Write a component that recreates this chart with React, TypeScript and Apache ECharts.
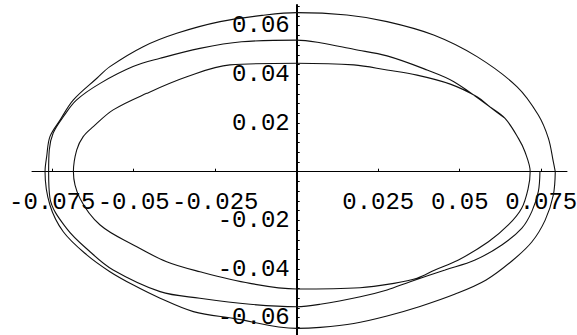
import React, { useEffect, useRef } from "react";
import * as echarts from "echarts";

// Outer closed orbit, (x, y) pairs
const outerLoop: [number, number][] = [
  [0.0793, 0], [0.0787, -0.0096], [0.0762, -0.0199], [0.0721, -0.0289],
  [0.066, -0.0367], [0.0581, -0.0445], [0.0486, -0.0503], [0.0378, -0.0554],
  [0.0277, -0.0593], [0.0175, -0.0624], [0.0072, -0.064], [0, -0.0644],
  [-0.0194, -0.0603], [-0.0317, -0.0575], [-0.0419, -0.052], [-0.0501, -0.0466],
  [-0.0573, -0.0411], [-0.0644, -0.0342], [-0.0716, -0.0247], [-0.0757, -0.0137],
  [-0.0772, 0], [-0.0767, 0.0062], [-0.0757, 0.0144], [-0.0726, 0.0212],
  [-0.0685, 0.0295], [-0.0613, 0.0384], [-0.0573, 0.0432], [-0.0471, 0.0514],
  [-0.0368, 0.0569], [-0.0235, 0.0617], [-0.0097, 0.0644], [0, 0.0654],
  [0.0154, 0.0644], [0.0277, 0.0617], [0.042, 0.0562], [0.0553, 0.0473],
  [0.0676, 0.0349], [0.0741, 0.0233], [0.0772, 0.0137], [0.0787, 0.0041],
  [0.0793, 0],
];

// Trajectory starting at (0.075, 0): first turn
const firstTurn: [number, number][] = [
  [0.0746, 0], [0.0741, -0.0082], [0.0721, -0.0164], [0.069, -0.0233],
  [0.0629, -0.0301], [0.0547, -0.0363], [0.0455, -0.0404], [0.0348, -0.0452],
  [0.0277, -0.0486], [0.0195, -0.0514], [0.0072, -0.0545], [0, -0.0555],
  [-0.0143, -0.0545], [-0.0297, -0.052], [-0.0419, -0.0493], [-0.0563, -0.0404],
  [-0.0634, -0.0329], [-0.0706, -0.0233], [-0.0757, -0.0108], [-0.0761, 0],
  [-0.0759, 0.0089], [-0.0747, 0.0159], [-0.0716, 0.0226], [-0.0675, 0.0295],
  [-0.0603, 0.0363], [-0.0502, 0.0432], [-0.0419, 0.0466], [-0.0297, 0.0507],
  [-0.0169, 0.0534], [0, 0.0541], [0.0072, 0.053], [0.0175, 0.0503],
  [0.0277, 0.0476], [0.04, 0.0418], [0.0482, 0.037], [0.0593, 0.0266],
  [0.0639, 0.0219], [0.068, 0.0137], [0.07, 0.0082], [0.0716, 0],
];

// Same trajectory: second turn
const secondTurn: [number, number][] = [
  [0.071, -0.0068], [0.069, -0.015], [0.0649, -0.0219], [0.0588, -0.0288],
  [0.0496, -0.0363], [0.0424, -0.0404], [0.0369, -0.0438], [0.0298, -0.0459],
  [0.0194, -0.0477], [0, -0.0482], [-0.0143, -0.0459], [-0.0297, -0.0411],
  [-0.0399, -0.037], [-0.0501, -0.0301], [-0.0603, -0.0219], [-0.0665, -0.0109],
  [-0.0685, 0], [-0.0675, 0.0089], [-0.0655, 0.0144], [-0.0624, 0.0185],
  [-0.0563, 0.0254], [-0.046, 0.0322], [-0.0337, 0.039], [-0.0205, 0.0439],
  [0, 0.0446], [0.0175, 0.0439], [0.0277, 0.0418], [0.0369, 0.0397],
  [0.0471, 0.036], [0.0553, 0.0308], [0.0593, 0.0266], [0.0639, 0.0219],
];

const xTickValues = [-0.075, -0.05, -0.025, 0.025, 0.05, 0.075];
const yLabelValues = [-0.06, -0.04, -0.02, 0.02, 0.04, 0.06];
const yTickValues = [
  -0.064, -0.06, -0.056, -0.052, -0.048, -0.044, -0.04, -0.036, -0.032, -0.028,
  -0.024, -0.02, -0.016, -0.012, -0.008, -0.004, 0.004, 0.008, 0.012, 0.016,
  0.02, 0.024, 0.028, 0.032, 0.036, 0.04, 0.044, 0.048, 0.052, 0.056, 0.06,
  0.064, 0.068,
];

const FONT = "Liberation Mono";

// plot area
const W = 577;
const H = 335;
const GRID = { left: 32, right: 10, top: 5, bottom: 0 };
const X_MIN = -0.0812;
const X_MAX = 0.0829;
const Y_MIN = -0.06712;
const Y_MAX = 0.06852;

export default function App() {
  const ref = useRef<HTMLDivElement>(null);

  useEffect(() => {
    if (!ref.current) return;
    const chart = echarts.init(ref.current, null, { renderer: "svg" });
    const lineStyle = { color: "#111", width: 1.1 };

    // axes cross at the origin: shift each axis inward to the zero of the other
    const plotW = W - GRID.left - GRID.right;
    const plotH = H - GRID.top - GRID.bottom;
    const xAxisOffset = -((0 - Y_MIN) / (Y_MAX - Y_MIN)) * plotH;
    const yAxisOffset = -((0 - X_MIN) / (X_MAX - X_MIN)) * plotW;

    const labelText = {
      color: "#000",
      fontFamily: FONT,
      fontSize: 24,
      lineHeight: 16,
      hideOverlap: false,
      showMinLabel: true,
      showMaxLabel: true,
      formatter: (v: number) => String(v),
    };

    chart.setOption({
      animation: false,
      backgroundColor: "#ffffff",
      grid: { ...GRID, containLabel: false, outerBoundsMode: "none" },
      xAxis: {
        type: "value",
        position: "bottom",
        offset: xAxisOffset,
        min: X_MIN,
        max: X_MAX,
        axisLine: { onZero: false, lineStyle: { color: "#000", width: 1 } },
        axisTick: {
          show: true,
          inside: true,
          length: 3,
          customValues: xTickValues,
          lineStyle: { color: "#000" },
        },
        axisLabel: { ...labelText, customValues: xTickValues, margin: 23 },
        splitLine: { show: false },
      },
      yAxis: {
        type: "value",
        position: "left",
        offset: yAxisOffset,
        min: Y_MIN,
        max: Y_MAX,
        axisLine: { onZero: false, lineStyle: { color: "#000", width: 2 } },
        axisTick: {
          show: true,
          inside: true,
          length: 3,
          customValues: yTickValues,
          lineStyle: { color: "#000" },
        },
        axisLabel: { ...labelText, customValues: yLabelValues, margin: 7 },
        splitLine: { show: false },
      },
      series: [
        {
          type: "line",
          data: outerLoop,
          showSymbol: false,
          smooth: 0.35,
          lineStyle,
        },
        {
          type: "line",
          data: [...firstTurn, ...secondTurn],
          showSymbol: false,
          smooth: 0.35,
          lineStyle,
        },
      ],
    });
    return () => chart.dispose();
  }, []);

  return (
    <div
      ref={ref}
      style={{ position: "fixed", left: 0, top: 0, width: W, height: H }}
    />
  );
}
